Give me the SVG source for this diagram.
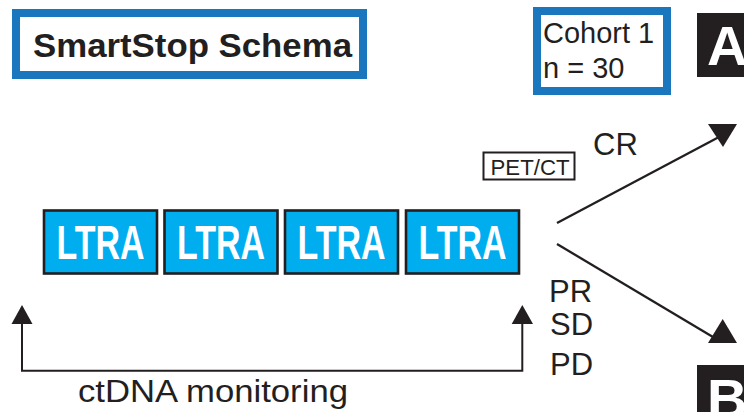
<svg xmlns="http://www.w3.org/2000/svg" width="744" height="412" viewBox="0 0 744 412">
<style>
.frame{fill:#fff;stroke:#1a77bd;stroke-width:8}
.ltra rect{fill:#00aeef;stroke:#231f20;stroke-width:2.6}
.ltra text{font-family:"Liberation Sans",Arial,sans-serif;font-weight:bold;font-size:48px;fill:#fff;text-anchor:middle}
.t{font-family:"Liberation Sans",Arial,sans-serif;fill:#231f20}
.lbl{fill:#231f20}
.lbl text{font-family:"Liberation Sans",Arial,sans-serif;font-weight:bold;fill:#fff}
.conn line,.conn path{stroke:#231f20;fill:none}
.head{fill:#231f20;stroke:none}
</style>
<rect width="744" height="412" fill="#fff"/>
<g id="title">
<rect class="frame" x="16" y="13" width="347" height="62"/>
<text class="t" x="33" y="57" font-size="34" font-weight="bold" textLength="319" lengthAdjust="spacingAndGlyphs">SmartStop Schema</text>
</g>
<g id="cohort">
<rect class="frame" x="537" y="11" width="130" height="80"/>
<text class="t" x="543" y="43" font-size="29">Cohort 1</text>
<text class="t" x="543" y="78" font-size="29">n = 30</text>
</g>
<g id="labelA" class="lbl">
<rect x="697" y="13" width="60" height="64"/>
<text x="707" y="65" font-size="56">A</text>
</g>
<g id="labelB" class="lbl">
<rect x="697" y="365" width="60" height="60"/>
<text x="707" y="418" font-size="56">B</text>
</g>
<g id="ltra1" class="ltra"><rect x="44" y="210.5" width="113" height="63"/><text x="100.5" y="259" textLength="88" lengthAdjust="spacingAndGlyphs">LTRA</text></g>
<g id="ltra2" class="ltra"><rect x="164.5" y="210.5" width="113" height="63"/><text x="221" y="259" textLength="88" lengthAdjust="spacingAndGlyphs">LTRA</text></g>
<g id="ltra3" class="ltra"><rect x="285" y="210.5" width="113" height="63"/><text x="341.5" y="259" textLength="88" lengthAdjust="spacingAndGlyphs">LTRA</text></g>
<g id="ltra4" class="ltra"><rect x="406" y="210.5" width="113" height="63"/><text x="462.5" y="259" textLength="88" lengthAdjust="spacingAndGlyphs">LTRA</text></g>
<g id="petct">
<rect x="483.5" y="152.5" width="91" height="27" fill="#fff" stroke="#231f20" stroke-width="2"/>
<text class="t" x="490.5" y="175" font-size="22" textLength="79" lengthAdjust="spacingAndGlyphs">PET/CT</text>
</g>
<g id="labels">
<text class="t" x="593" y="155" font-size="31">CR</text>
<text class="t" x="549" y="302" font-size="31">PR</text>
<text class="t" x="550" y="335" font-size="31">SD</text>
<text class="t" x="550" y="375" font-size="31">PD</text>
<text class="t" x="78" y="401.5" font-size="31" textLength="270" lengthAdjust="spacingAndGlyphs">ctDNA monitoring</text>
</g>
<g id="connectors" class="conn">
<line x1="557" y1="223" x2="719" y2="137" stroke-width="2.3"/>
<polygon class="head" points="708,124 737,124 723,147"/>
<line x1="557" y1="244" x2="718" y2="340" stroke-width="2.3"/>
<polygon class="head" points="722.7,319 708,343 737,343"/>
<path d="M22,322 V370.7 H522.3 V322" stroke-width="2" stroke="#3a3a3a"/>
<polygon class="head" points="22,305 11.5,324 32.5,324"/>
<polygon class="head" points="522.3,305 511.7,324 533,324"/>
</g>
</svg>
